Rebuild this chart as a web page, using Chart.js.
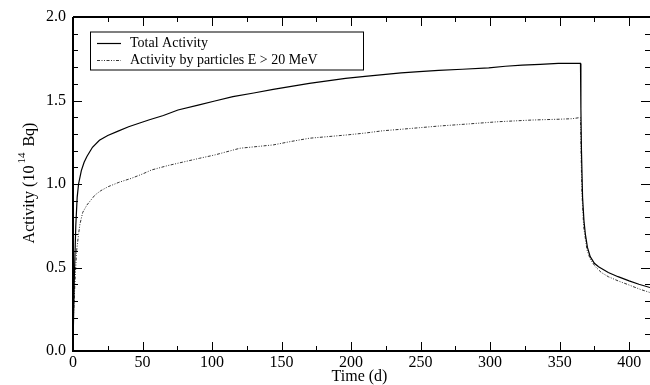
<!DOCTYPE html>
<html>
<head>
<meta charset="utf-8">
<script src="https://cdn.jsdelivr.net/npm/chart.js@4/dist/chart.umd.min.js"></script>
<style>
  html, body { margin: 0; padding: 0; background: #fff; }
  #chart { display: block; }
</style>
</head>
<body>
<canvas id="chart" width="650" height="385"></canvas>
<script>
// ── data ──
const totalTime = [0, 1, 2, 3, 4, 6, 8, 10, 14, 19, 25, 32, 40, 48, 55, 65, 75.5, 90, 102, 115, 130, 144, 157, 170, 183, 196, 210, 223, 236, 249, 263, 280, 299, 311, 323, 336, 349, 365,
  365.3, 365.7, 366.5, 367.5, 368.5, 370, 372, 375, 378, 385, 392, 400, 407, 415];
const totalAct = [0.03, 0.45, 0.75, 0.92, 1.0, 1.08, 1.13, 1.165, 1.22, 1.262, 1.29, 1.315, 1.343, 1.365, 1.385, 1.41, 1.443, 1.472, 1.497, 1.523, 1.545, 1.567, 1.585, 1.603, 1.618, 1.633, 1.645, 1.655, 1.665, 1.673, 1.68, 1.687, 1.695, 1.705, 1.712, 1.716, 1.722, 1.722,
  1.45, 1.2, 0.92, 0.78, 0.7, 0.62, 0.565, 0.525, 0.505, 0.47, 0.445, 0.42, 0.4, 0.38];

const highTime = [0, 0.3, 1.4, 2.6, 4, 5, 7, 10, 15.8, 20, 25.3, 33, 42, 50, 56.5, 68, 80, 91, 102, 120, 144, 157, 170, 196, 210, 223, 235, 249, 263, 285, 306, 330, 350, 359, 364, 365,
  365.4, 366, 367.3, 369.7, 372, 375.7, 380, 385, 392, 400, 407, 415];
const highAct = [0.03, 0.2, 0.41, 0.6, 0.7, 0.76, 0.83, 0.874, 0.934, 0.96, 0.984, 1.01, 1.034, 1.06, 1.084, 1.11, 1.133, 1.154, 1.174, 1.214, 1.234, 1.255, 1.274, 1.293, 1.305, 1.319, 1.327, 1.337, 1.347, 1.36, 1.373, 1.383, 1.388, 1.391, 1.397, 1.397,
  1.2, 0.95, 0.744, 0.605, 0.55, 0.505, 0.47, 0.445, 0.42, 0.395, 0.372, 0.35];

const seriesNames = ['Total Activity', 'Activity by particles E > 20 MeV'];
const xTitle = 'Time (d)';
const yTitle = ['Activity (10', '14', ' Bq)'];

const SERIF = "'Liberation Serif', 'DejaVu Serif', serif";
const DOTS = [3, 1.5, 1, 1.5, 1, 1.5];

const toPts = (xs, ys) => xs.map((x, i) => ({ x, y: ys[i] }));

// frame, inward ticks, legend and axis titles
const framePlugin = {
  id: 'frame',
  afterDraw(chart) {
    const { ctx, chartArea: a, scales: { x, y } } = chart;
    ctx.save();
    ctx.strokeStyle = '#000';

    // ticks
    ctx.lineWidth = 1;
    ctx.beginPath();
    for (let t = 0; t <= 415; t += 25) {
      const px = Math.round(x.getPixelForValue(t)) + 0.5;
      const len = t % 50 === 0 ? 9 : 5;
      ctx.moveTo(px, a.bottom); ctx.lineTo(px, a.bottom - len);
      ctx.moveTo(px, a.top); ctx.lineTo(px, a.top + len);
    }
    for (let i = 0; i <= 20; i++) {
      const py = Math.round(y.getPixelForValue(i / 10)) + 0.5;
      const len = i % 5 === 0 ? 9 : 5;
      ctx.moveTo(a.left, py); ctx.lineTo(a.left + len, py);
      ctx.moveTo(a.right, py); ctx.lineTo(a.right - len, py);
    }
    ctx.stroke();

    // axes
    ctx.lineWidth = 2;
    ctx.beginPath();
    ctx.moveTo(a.left, a.top); ctx.lineTo(a.right, a.top);
    ctx.moveTo(a.left, a.top); ctx.lineTo(a.left, a.bottom); ctx.lineTo(a.right, a.bottom);
    ctx.stroke();

    // legend
    const lx = 90, ly = 31.5, lw = 273, lh = 38;
    ctx.fillStyle = '#fff';
    ctx.fillRect(lx, ly, lw, lh);
    ctx.lineWidth = 1;
    ctx.strokeRect(lx + 0.5, ly + 0.5, lw, lh);
    const ds = chart.data.datasets;
    const rows = [43, 60];
    ctx.font = '14px ' + SERIF;
    ctx.textBaseline = 'middle';
    ctx.textAlign = 'left';
    rows.forEach((ry, i) => {
      ctx.beginPath();
      ctx.strokeStyle = ds[i].borderColor;
      ctx.lineWidth = ds[i].borderWidth;
      ctx.setLineDash(ds[i].borderDash || []);
      ctx.moveTo(97, ry + 0.5); ctx.lineTo(121, ry + 0.5);
      ctx.stroke();
      ctx.setLineDash([]);
      ctx.fillStyle = '#000';
      ctx.fillText(seriesNames[i], 130, ry);
    });

    // x title
    ctx.font = '16px ' + SERIF;
    ctx.textAlign = 'center';
    ctx.fillText(xTitle, (a.left + a.right) / 2 - 2, 377);

    // y title with superscript
    ctx.translate(30, 183);
    ctx.rotate(-Math.PI / 2);
    const big = '16px ' + SERIF, small = '11px ' + SERIF;
    ctx.font = big;
    const w0 = ctx.measureText(yTitle[0]).width, w2 = ctx.measureText(yTitle[2]).width;
    ctx.font = small;
    const w1 = ctx.measureText(yTitle[1]).width + 4;
    let cx = -(w0 + w1 + w2) / 2;
    ctx.textAlign = 'left';
    ctx.font = big;
    ctx.fillText(yTitle[0], cx, 0);
    ctx.font = small;
    ctx.fillText(yTitle[1], cx + w0 + 2, -8);
    ctx.font = big;
    ctx.fillText(yTitle[2], cx + w0 + w1, 0);
    ctx.restore();
  }
};

new Chart(document.getElementById('chart'), {
  type: 'line',
  data: {
    datasets: [
      { label: seriesNames[0], data: toPts(totalTime, totalAct), borderColor: '#000', borderWidth: 1.2, pointRadius: 0, tension: 0 },
      { label: seriesNames[1], data: toPts(highTime, highAct), borderColor: '#333', borderWidth: 1, borderDash: DOTS, pointRadius: 0, tension: 0 }
    ]
  },
  options: {
    responsive: false,
    animation: false,
    devicePixelRatio: 1,
    layout: { padding: { top: 17, right: 0, left: 0, bottom: 0 } },
    plugins: { legend: { display: false }, tooltip: { enabled: false } },
    scales: {
      x: {
        type: 'linear', min: 0, max: 415,
        grid: { display: false, drawTicks: false },
        border: { display: false },
        ticks: { stepSize: 50, includeBounds: false, maxRotation: 0, padding: 2, color: '#000', font: { family: SERIF, size: 16 } },
        afterFit: s => { s.height = 34; }
      },
      y: {
        min: 0, max: 2,
        grid: { display: false, drawTicks: false },
        border: { display: false },
        ticks: { stepSize: 0.5, padding: 7, color: '#000', font: { family: SERIF, size: 16 }, callback: v => v.toFixed(1) },
        afterFit: s => { s.width = 73; }
      }
    }
  },
  plugins: [framePlugin]
});
</script>
</body>
</html>
